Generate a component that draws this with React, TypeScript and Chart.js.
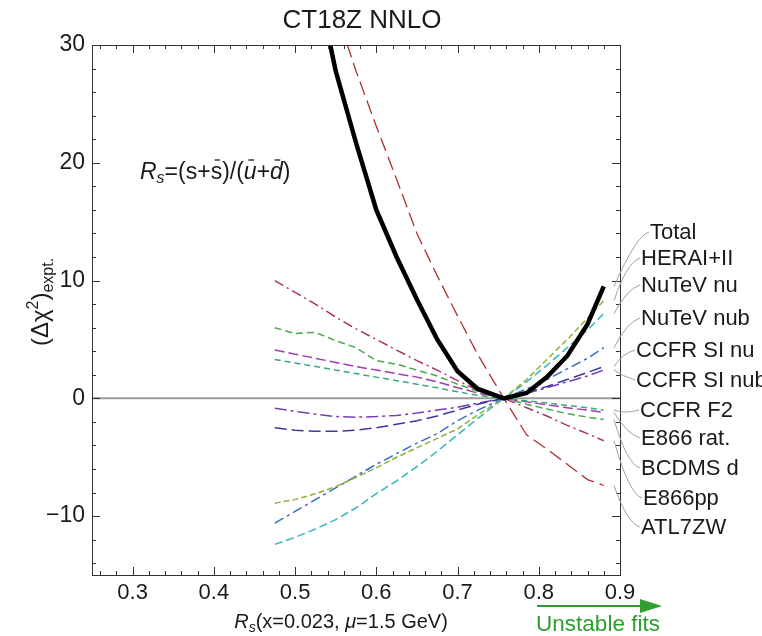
import React, { useEffect, useRef } from "react";
import { Chart, registerables } from "chart.js";
Chart.register(...registerables);

// ---------- data ----------
const rsValues = [0.475, 0.5, 0.525, 0.55, 0.575, 0.6, 0.625, 0.65, 0.675, 0.7, 0.725, 0.757, 0.785, 0.81, 0.835, 0.86, 0.88];

const totalChi = [60, 47, 36, 27.8, 21.7, 16.0, 12.0, 8.4, 5.0, 2.3, 0.8, 0, 0.45, 1.8, 3.6, 6.3, 9.5];
const heraChi = [-8.9, -8.6, -8.1, -7.5, -6.7, -5.9, -5.0, -4.2, -3.4, -2.6, -1.4, 0, 1.6, 3.3, 5.0, 6.8, 8.3];
const nutevNuChi = [-12.4, -11.8, -11.1, -10.3, -9.3, -8.1, -7.0, -5.8, -4.5, -3.1, -1.7, 0, 1.4, 2.8, 4.3, 5.8, 7.2];
const nutevNubChi = [-10.6, -9.6, -8.6, -7.6, -6.6, -5.6, -4.7, -3.8, -3.0, -1.9, -1.0, 0, 0.8, 1.6, 2.5, 3.4, 4.3];
const ccfrNuChi = [-2.5, -2.7, -2.8, -2.8, -2.7, -2.5, -2.2, -1.9, -1.5, -1.0, -0.5, 0, 0.5, 1.0, 1.6, 2.2, 2.7];
const ccfrNubChi = [-0.85, -1.1, -1.35, -1.55, -1.6, -1.55, -1.45, -1.25, -1.0, -0.75, -0.4, 0, 0.4, 0.9, 1.4, 1.9, 2.4];
const ccfrF2Chi = [3.3, 3.0, 2.7, 2.4, 2.1, 1.8, 1.5, 1.2, 0.9, 0.55, 0.25, 0, -0.2, -0.4, -0.6, -0.8, -1.0];
const e866ratChi = [4.1, 3.75, 3.4, 3.05, 2.7, 2.4, 2.1, 1.8, 1.4, 0.9, 0.45, 0, -0.3, -0.55, -0.8, -1.0, -1.2];
const bcdmsChi = [6.0, 5.5, 5.6, 4.9, 4.3, 3.2, 2.9, 2.4, 1.9, 1.2, 0.6, 0, -0.5, -0.9, -1.3, -1.6, -1.8];
const e866ppChi = [10.0, 9.0, 8.0, 6.9, 5.9, 5.0, 4.1, 3.2, 2.4, 1.5, 0.7, 0, -0.8, -1.5, -2.3, -3.0, -3.6];
const atlasChi = [60, 50, 40, 33, 27.8, 23.1, 18.6, 14.0, 10.4, 7.0, 3.7, 0, -3.1, -4.3, -5.6, -6.9, -7.4];

const seriesNames = ["Total", "HERAI+II", "NuTeV nu", "NuTeV nub", "CCFR SI nu", "CCFR SI nub", "CCFR F2", "E866 rat.", "BCDMS d", "E866pp", "ATL7ZW"];
const seriesValues = [totalChi, heraChi, nutevNuChi, nutevNubChi, ccfrNuChi, ccfrNubChi, ccfrF2Chi, e866ratChi, bcdmsChi, e866ppChi, atlasChi];

const xTickValues = [0.3, 0.4, 0.5, 0.6, 0.7, 0.8, 0.9];
const yTickValues = [-10, 0, 10, 20, 30];
const xRange = [0.25, 0.9];
const yRange = [-15, 30];

// ---------- styles ----------
const FONT = "'Liberation Sans', Arial, Helvetica, sans-serif";
const seriesColors = ["#000000", "#8db33a", "#35b5c5", "#3a6cc0", "#3a3a9e", "#7a3ab8", "#3aa87a", "#a23ab5", "#4aa84a", "#a8356e", "#b03030"];
const seriesDash: number[][] = [[], [6, 3], [8, 4], [10, 4, 3, 4], [12, 5], [12, 4, 3, 4], [6, 4], [10, 4], [7, 4], [10, 4, 2, 4], [14, 6]];
const seriesWidth = [4.5, 1.5, 1.5, 1.5, 1.5, 1.5, 1.5, 1.5, 1.5, 1.5, 1.3];
const labelPos: [number, number][] = [
  [650, 232], [641, 258], [641, 285], [641, 318], [636, 350], [636, 380],
  [640, 410], [641, 438], [641, 468], [643, 498], [641, 527],
];

function richText(ctx: CanvasRenderingContext2D, parts: { t: string; f: string; dy?: number; bar?: boolean }[], x: number, y: number, align: "left" | "center") {
  let w = 0;
  for (const p of parts) { ctx.font = p.f; w += ctx.measureText(p.t).width; }
  let cx = align === "center" ? x - w / 2 : x;
  ctx.textAlign = "left";
  ctx.textBaseline = "alphabetic";
  for (const p of parts) {
    ctx.font = p.f;
    const pw = ctx.measureText(p.t).width;
    ctx.fillText(p.t, cx, y + (p.dy || 0));
    if (p.bar) {
      ctx.save();
      ctx.lineWidth = 1.3;
      ctx.beginPath();
      ctx.moveTo(cx + pw * 0.35, y - 19);
      ctx.lineTo(cx + pw * 0.8, y - 19);
      ctx.stroke();
      ctx.restore();
    }
    cx += pw;
  }
  return w;
}

const decorPlugin = {
  id: "decor",
  afterDraw(chart: any) {
    const ctx: CanvasRenderingContext2D = chart.ctx;
    const xs = chart.scales.x;
    const ys = chart.scales.y;
    const a = chart.chartArea;
    ctx.save();
    // frame
    ctx.strokeStyle = "#333";
    ctx.lineWidth = 1;
    ctx.strokeRect(Math.round(a.left) + 0.5, Math.round(a.top) + 0.5, Math.round(a.right - a.left), Math.round(a.bottom - a.top));
    // inward ticks
    ctx.beginPath();
    for (let i = 13; i <= 45; i++) {
      const v = i * 0.02;
      const major = i % 5 === 0;
      const L = major ? 8 : 4;
      const px = Math.round(xs.getPixelForValue(v)) + 0.5;
      ctx.moveTo(px, a.bottom); ctx.lineTo(px, a.bottom - L);
      ctx.moveTo(px, a.top); ctx.lineTo(px, a.top + L);
    }
    for (let v = -14; v <= 30; v += 2) {
      const major = v % 10 === 0;
      const L = major ? 8 : 4;
      const py = Math.round(ys.getPixelForValue(v)) + 0.5;
      ctx.moveTo(a.left, py); ctx.lineTo(a.left + L, py);
      ctx.moveTo(a.right, py); ctx.lineTo(a.right - L, py);
    }
    ctx.stroke();

    ctx.fillStyle = "#1a1a1a";
    ctx.strokeStyle = "#1a1a1a";
    // title
    ctx.font = `26px ${FONT}`;
    ctx.textAlign = "center";
    ctx.textBaseline = "alphabetic";
    ctx.fillText("CT18Z NNLO", 362, 28);

    // annotation
    const big = `23px ${FONT}`;
    const bigI = `italic 23px ${FONT}`;
    const smI = `italic 16px ${FONT}`;
    richText(ctx, [
      { t: "R", f: bigI }, { t: "s", f: smI, dy: 4 }, { t: "=(s+", f: big }, { t: "s", f: big, bar: true },
      { t: ")/(", f: big }, { t: "u", f: bigI, bar: true }, { t: "+", f: big }, { t: "d", f: bigI, bar: true }, { t: ")", f: big },
    ], 140, 179, "left");

    // x axis title
    const t20 = `20px ${FONT}`;
    const t20i = `italic 20px ${FONT}`;
    richText(ctx, [
      { t: "R", f: t20i }, { t: "s", f: `italic 14px ${FONT}`, dy: 4 }, { t: "(x=0.023, ", f: t20 },
      { t: "μ", f: t20i }, { t: "=1.5 GeV)", f: t20 },
    ], 341, 628, "center");

    // y axis title (rotated)
    ctx.save();
    ctx.translate(48, 302);
    ctx.rotate(-Math.PI / 2);
    richText(ctx, [
      { t: "(Δχ", f: `24px ${FONT}` }, { t: "2", f: `16px ${FONT}`, dy: -10 }, { t: ")", f: `24px ${FONT}` }, { t: "expt.", f: `16px ${FONT}`, dy: 5 },
    ], 0, 0, "center");
    ctx.restore();

    // Unstable fits arrow
    ctx.fillStyle = "#2f9e2f";
    ctx.strokeStyle = "#2f9e2f";
    ctx.lineWidth = 2;
    ctx.beginPath();
    ctx.moveTo(537, 606); ctx.lineTo(644, 606);
    ctx.stroke();
    ctx.beginPath();
    ctx.moveTo(662, 606); ctx.lineTo(640, 599); ctx.lineTo(640, 613); ctx.closePath();
    ctx.fill();
    ctx.font = `22.5px ${FONT}`;
    ctx.textAlign = "center";
    ctx.fillText("Unstable fits", 598, 631);

    // legend labels with leader lines
    ctx.strokeStyle = "#a0a0a0";
    ctx.lineWidth = 1;
    ctx.fillStyle = "#1a1a1a";
    ctx.font = `22px ${FONT}`;
    ctx.textAlign = "left";
    ctx.textBaseline = "middle";
    seriesNames.forEach((name, i) => {
      const vals = seriesValues[i];
      const endY = ys.getPixelForValue(vals[vals.length - 1]);
      const [lx, ly] = labelPos[i];
      ctx.beginPath();
      ctx.moveTo(a.right - 6, endY);
      ctx.quadraticCurveTo(lx - 14, ly + (endY > ly ? 4 : -4), lx - 1, ly);
      ctx.stroke();
      ctx.fillText(name, lx, ly + 1);
    });
    ctx.restore();
  },
};

export default function App() {
  const ref = useRef<HTMLCanvasElement | null>(null);
  useEffect(() => {
    document.body.style.margin = "0";
    const canvas = ref.current!;
    const datasets: any[] = seriesNames.map((name, i) => ({
      label: name,
      data: rsValues.map((x, k) => ({ x, y: seriesValues[i][k] })),
      borderColor: seriesColors[i],
      borderWidth: seriesWidth[i],
      borderDash: seriesDash[i],
      pointRadius: 0,
      tension: 0,
      fill: false,
    }));
    datasets.push({
      label: "zero",
      data: [{ x: xRange[0], y: 0 }, { x: xRange[1], y: 0 }],
      borderColor: "#999999",
      borderWidth: 2,
      pointRadius: 0,
      fill: false,
    });
    const chart = new Chart(canvas, {
      type: "line",
      data: { datasets },
      options: {
        animation: false,
        responsive: false,
        devicePixelRatio: 1,
        layout: { padding: { left: 0, top: 45, right: 142, bottom: 0 } },
        plugins: { legend: { display: false }, tooltip: { enabled: false }, title: { display: false } },
        scales: {
          x: {
            type: "linear",
            min: xRange[0],
            max: xRange[1],
            afterBuildTicks: (s: any) => { s.ticks = xTickValues.map((v) => ({ value: v })); },
            afterFit: (s: any) => { s.height = 61; },
            grid: { display: false, drawTicks: false },
            border: { display: false },
            ticks: {
              font: { family: FONT, size: 22 },
              color: "#1a1a1a",
              padding: 5,
              maxRotation: 0,
              autoSkip: false,
              callback: (v: any) => Number(v).toFixed(1),
            },
          },
          y: {
            type: "linear",
            min: yRange[0],
            max: yRange[1],
            afterBuildTicks: (s: any) => { s.ticks = yTickValues.map((v) => ({ value: v })); },
            afterFit: (s: any) => { s.width = 92; },
            grid: { display: false, drawTicks: false },
            border: { display: false },
            ticks: {
              font: { family: FONT, size: 23 },
              color: "#1a1a1a",
              padding: 7,
              autoSkip: false,
              callback: (v: any) => (Number(v) < 0 ? "−" + Math.abs(Number(v)) : String(v)),
            },
          },
        },
      },
      plugins: [decorPlugin],
    });
    return () => chart.destroy();
  }, []);
  return <canvas ref={ref} width={762} height={636} style={{ display: "block", width: 762, height: 636 }} />;
}
